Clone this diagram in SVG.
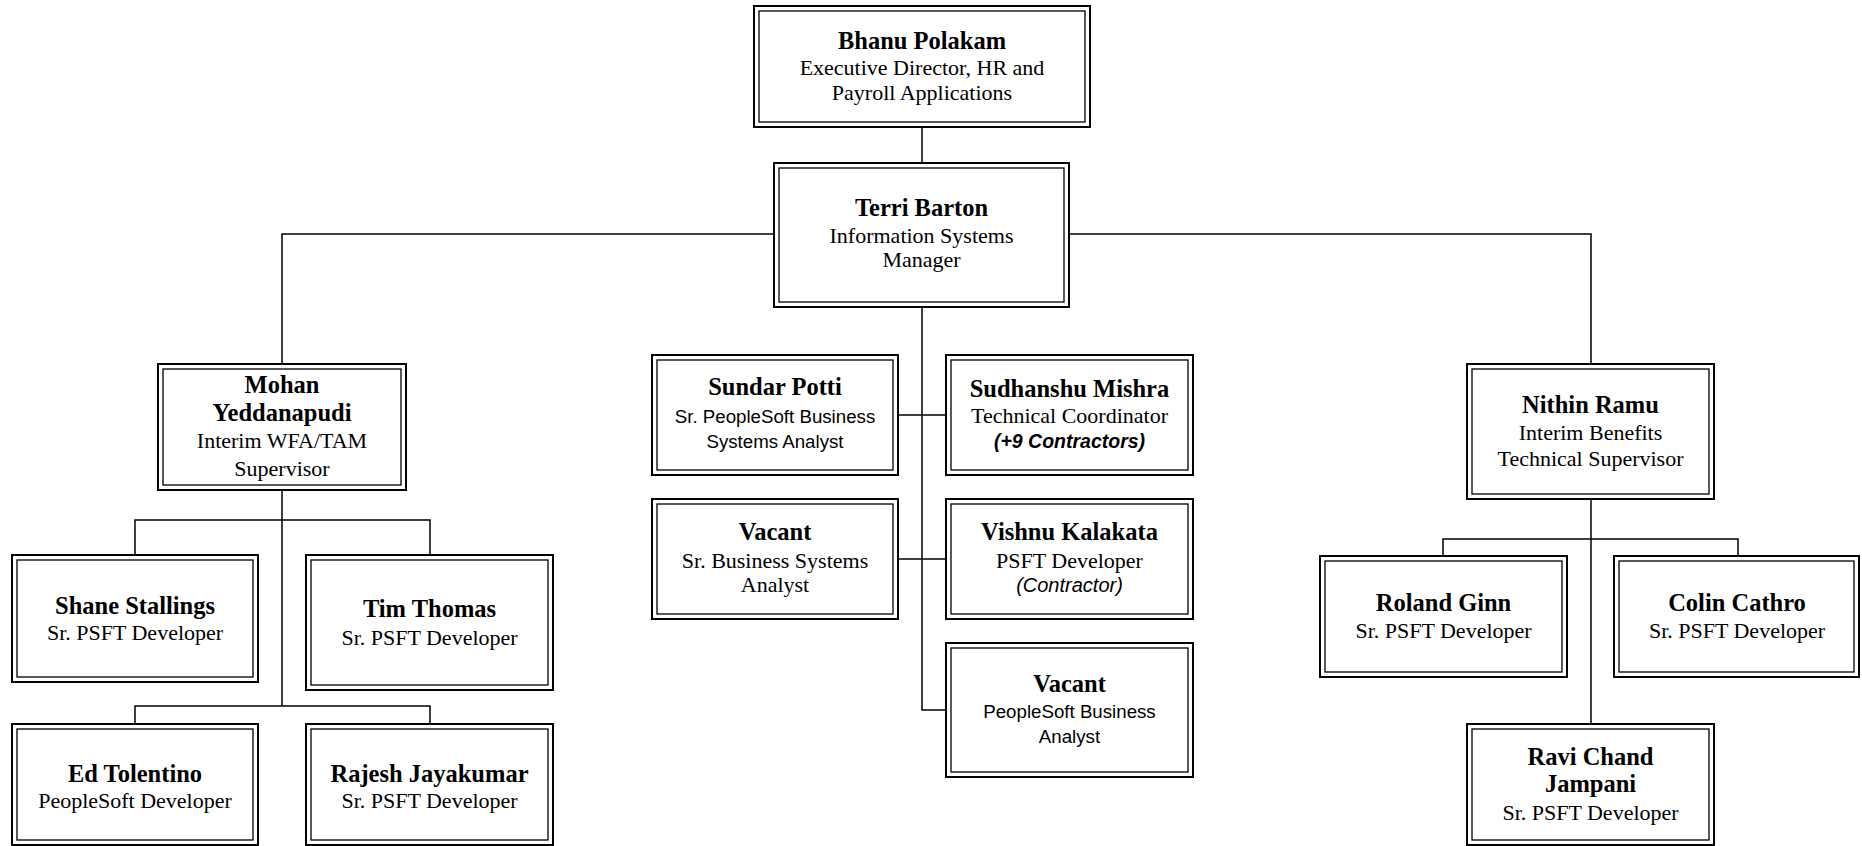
<svg xmlns="http://www.w3.org/2000/svg" width="1862" height="846" viewBox="0 0 1862 846">
<style>
.o{fill:#fff;stroke:#000;stroke-width:2}
.i{fill:none;stroke:#000;stroke-width:1.3}
.c{fill:none;stroke:#000;stroke-width:1.5}
text{text-anchor:middle;fill:#000}
.n{font-family:"Liberation Serif",serif;font-weight:bold;font-size:24.5px}
.t{font-family:"Liberation Serif",serif;font-size:22px}
.s{font-family:"Liberation Sans",sans-serif;font-size:18.7px}
.si{font-family:"Liberation Sans",sans-serif;font-size:20px;font-style:italic}
.sbi{font-family:"Liberation Sans",sans-serif;font-size:19.5px;font-style:italic;font-weight:bold}
</style>
<rect width="1862" height="846" fill="#fff"/>
<g id="connectors">
<path class="c" d="M922 127V163"/>
<path class="c" d="M774 234H282V364"/>
<path class="c" d="M1069 234H1591V364"/>
<path class="c" d="M922 307V710H946"/>
<path class="c" d="M898 415H946"/>
<path class="c" d="M898 559H946"/>
<path class="c" d="M282 490V706"/>
<path class="c" d="M135 555V520H430V555"/>
<path class="c" d="M135 724V706H430V724"/>
<path class="c" d="M1591 499V724"/>
<path class="c" d="M1443 556V539H1738V556"/>
</g>
<g id="bhanu">
<rect class="o" x="754" y="6" width="336" height="121"/><rect class="i" x="759" y="11" width="326" height="111"/>
<text class="n" x="922" y="49">Bhanu Polakam</text>
<text class="t" x="922" y="75">Executive Director, HR and</text>
<text class="t" x="922" y="100">Payroll Applications</text>
</g>
<g id="terri">
<rect class="o" x="774" y="163" width="295" height="144"/><rect class="i" x="779" y="168" width="285" height="134"/>
<text class="n" x="921.5" y="216">Terri Barton</text>
<text class="t" x="921.5" y="243">Information Systems</text>
<text class="t" x="921.5" y="267">Manager</text>
</g>
<g id="mohan">
<rect class="o" x="158" y="364" width="248" height="126"/><rect class="i" x="163" y="369" width="238" height="116"/>
<text class="n" x="282" y="393">Mohan</text>
<text class="n" x="282" y="421">Yeddanapudi</text>
<text class="t" x="282" y="448">Interim WFA/TAM</text>
<text class="t" x="282" y="476">Supervisor</text>
</g>
<g id="shane">
<rect class="o" x="12" y="555" width="246" height="127"/><rect class="i" x="17" y="560" width="236" height="117"/>
<text class="n" x="135" y="614">Shane Stallings</text>
<text class="t" x="135" y="640">Sr. PSFT Developer</text>
</g>
<g id="tim">
<rect class="o" x="306" y="555" width="247" height="135"/><rect class="i" x="311" y="560" width="237" height="125"/>
<text class="n" x="429.5" y="617">Tim Thomas</text>
<text class="t" x="429.5" y="645">Sr. PSFT Developer</text>
</g>
<g id="ed">
<rect class="o" x="12" y="724" width="246" height="121"/><rect class="i" x="17" y="729" width="236" height="111"/>
<text class="n" x="135" y="782">Ed Tolentino</text>
<text class="t" x="135" y="808">PeopleSoft Developer</text>
</g>
<g id="rajesh">
<rect class="o" x="306" y="724" width="247" height="121"/><rect class="i" x="311" y="729" width="237" height="111"/>
<text class="n" x="429.5" y="782">Rajesh Jayakumar</text>
<text class="t" x="429.5" y="808">Sr. PSFT Developer</text>
</g>
<g id="sundar">
<rect class="o" x="652" y="355" width="246" height="120"/><rect class="i" x="657" y="360" width="236" height="110"/>
<text class="n" x="775" y="395">Sundar Potti</text>
<text class="s" x="775" y="422.5">Sr. PeopleSoft Business</text>
<text class="s" x="775" y="448">Systems Analyst</text>
</g>
<g id="sudhanshu">
<rect class="o" x="946" y="355" width="247" height="120"/><rect class="i" x="951" y="360" width="237" height="110"/>
<text class="n" x="1069.5" y="396.5">Sudhanshu Mishra</text>
<text class="t" x="1069.5" y="422.5">Technical Coordinator</text>
<text class="sbi" x="1069.5" y="448">(+9 Contractors)</text>
</g>
<g id="vacant1">
<rect class="o" x="652" y="499" width="246" height="120"/><rect class="i" x="657" y="504" width="236" height="110"/>
<text class="n" x="775" y="540">Vacant</text>
<text class="t" x="775" y="567.5">Sr. Business Systems</text>
<text class="t" x="775" y="592">Analyst</text>
</g>
<g id="vishnu">
<rect class="o" x="946" y="499" width="247" height="120"/><rect class="i" x="951" y="504" width="237" height="110"/>
<text class="n" x="1069.5" y="540">Vishnu Kalakata</text>
<text class="t" x="1069.5" y="567.5">PSFT Developer</text>
<text class="si" x="1069.5" y="592">(Contractor)</text>
</g>
<g id="vacant2">
<rect class="o" x="946" y="643" width="247" height="134"/><rect class="i" x="951" y="648" width="237" height="124"/>
<text class="n" x="1069.5" y="691.5">Vacant</text>
<text class="s" x="1069.5" y="718">PeopleSoft Business</text>
<text class="s" x="1069.5" y="743">Analyst</text>
</g>
<g id="nithin">
<rect class="o" x="1467" y="364" width="247" height="135"/><rect class="i" x="1472" y="369" width="237" height="125"/>
<text class="n" x="1590.5" y="413">Nithin Ramu</text>
<text class="t" x="1590.5" y="440">Interim Benefits</text>
<text class="t" x="1590.5" y="466">Technical Supervisor</text>
</g>
<g id="roland">
<rect class="o" x="1320" y="556" width="247" height="121"/><rect class="i" x="1325" y="561" width="237" height="111"/>
<text class="n" x="1443.5" y="611">Roland Ginn</text>
<text class="t" x="1443.5" y="637.5">Sr. PSFT Developer</text>
</g>
<g id="colin">
<rect class="o" x="1614" y="556" width="245" height="121"/><rect class="i" x="1619" y="561" width="235" height="111"/>
<text class="n" x="1737" y="611">Colin Cathro</text>
<text class="t" x="1737" y="637.5">Sr. PSFT Developer</text>
</g>
<g id="ravi">
<rect class="o" x="1467" y="724" width="247" height="121"/><rect class="i" x="1472" y="729" width="237" height="111"/>
<text class="n" x="1590.5" y="765">Ravi Chand</text>
<text class="n" x="1590.5" y="792">Jampani</text>
<text class="t" x="1590.5" y="820">Sr. PSFT Developer</text>
</g>
</svg>
